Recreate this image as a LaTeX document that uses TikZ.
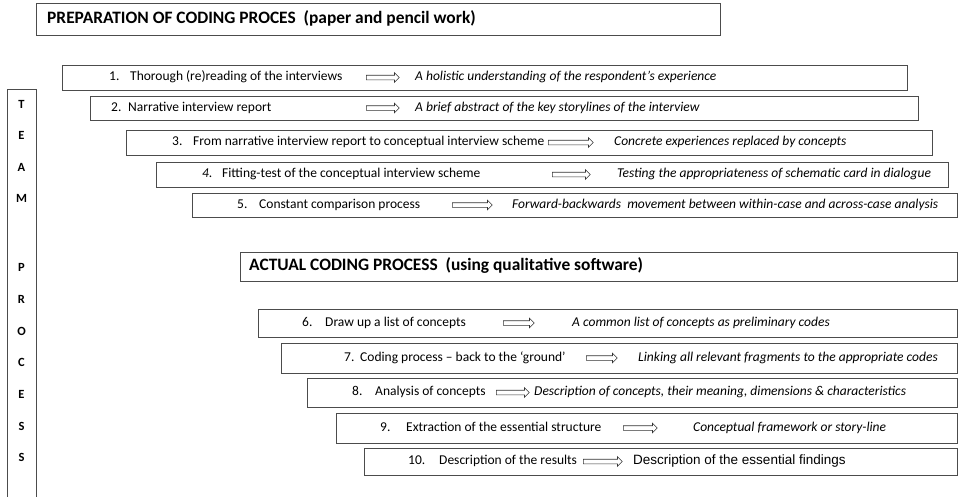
\documentclass[tikz,border=0pt]{standalone}
\usepackage{fontspec}
\setmainfont{Carlito}
\newfontfamily\arialfont{Liberation Sans}
\usetikzlibrary{shapes.arrows,positioning,calc}

\begin{document}
\begin{tikzpicture}[x=1pt,y=-1pt,
    stepbox/.style={draw=black!70,line width=1pt,rectangle,inner sep=0pt,anchor=north west},
    steptext/.style={anchor=west,inner sep=0pt,text height=9.5pt,text depth=3pt,font=\fontsize{13.5}{15}\selectfont},
    headtext/.style={anchor=west,inner sep=0pt,text height=12pt,text depth=3.5pt,font=\fontsize{17.4}{19}\selectfont\bfseries},
    teamletter/.style={inner sep=0pt,font=\fontsize{12.5}{14}\selectfont\bfseries},
    arrowsym/.style={single arrow,draw=black!80,line width=0.6pt,inner xsep=0pt,inner ysep=2pt,
      single arrow head extend=2.5pt,single arrow head indent=0pt,anchor=tail}
  ]
    \useasboundingbox (0,0) rectangle (958,496);
    % headers
    \node[stepbox,minimum width=684pt,minimum height=32pt] (prep) at (36,3) {};
    \node[headtext] at (47,19) {PREPARATION OF CODING PROCES \ (paper and pencil work)};
    \node[stepbox,minimum width=717pt,minimum height=29pt] (actual) at (240,252) {};
    \node[headtext] at (249,266.5) {ACTUAL CODING PROCESS \ (using qualitative software)};
    % team process column
    \node[stepbox,minimum width=29pt,minimum height=420pt] (team) at (7,89) {};
    \node[teamletter] (tT) at (21.5,104) {T};
    \node[teamletter] (tE) at (21.5,135) {E};
    \node[teamletter] (tA) at (21.5,167) {A};
    \node[teamletter] (tM) at (21.5,198) {M};
    \node[teamletter] (pP) at (21.5,267) {P};
    \node[teamletter] (pR) at (21.5,299) {R};
    \node[teamletter] (pO) at (21.5,331) {O};
    \node[teamletter] (pC) at (21.5,362) {C};
    \node[teamletter] (pE) at (21.5,394) {E};
    \node[teamletter] (pS) at (21.5,426) {S};
    \node[teamletter] (pS2) at (21.5,457) {S};
    % step 1
    \node[stepbox,minimum width=845pt,minimum height=25pt] (s1) at (62,65) {};
    \node[steptext] (n1) at (109,77.5) {1.};
    \node[steptext] (t1) at (130,77.5) {Thorough (re)reading of the interviews};
    \node[arrowsym,minimum height=33pt] (a1) at (366,77.5) {};
    \node[steptext] (r1) at (415,77.5) {\itshape A holistic understanding of the respondent’s experience};
    % step 2
    \node[stepbox,minimum width=828pt,minimum height=24pt] (s2) at (90,96) {};
    \node[steptext] (n2) at (111,108) {2.};
    \node[steptext] (t2) at (128,108) {Narrative interview report};
    \node[arrowsym,minimum height=33pt] (a2) at (366,108) {};
    \node[steptext] (r2) at (415,108) {\itshape A brief abstract of the key storylines of the interview};
    % step 3
    \node[stepbox,minimum width=806pt,minimum height=25pt] (s3) at (126,130) {};
    \node[steptext] (n3) at (172,142.5) {3.};
    \node[steptext] (t3) at (193,142.5) {From narrative interview report to conceptual interview scheme};
    \node[arrowsym,minimum height=45pt] (a3) at (548,142.5) {};
    \node[steptext] (r3) at (614,142.5) {\itshape Concrete experiences replaced by concepts};
    % step 4
    \node[stepbox,minimum width=792pt,minimum height=25pt] (s4) at (156,162) {};
    \node[steptext] (n4) at (202,174.5) {\itshape 4.};
    \node[steptext] (t4) at (222,174.5) {Fitting-test of the conceptual interview scheme};
    \node[arrowsym,minimum height=38pt] (a4) at (552,174.5) {};
    \node[steptext] (r4) at (617,174.5) {\itshape Testing the appropriateness of schematic card in dialogue};
    % step 5
    \node[stepbox,minimum width=765pt,minimum height=24pt] (s5) at (192,193) {};
    \node[steptext] (n5) at (237,205) {5.};
    \node[steptext] (t5) at (259,205) {Constant comparison process};
    \node[arrowsym,minimum height=40pt] (a5) at (452,205) {};
    \node[steptext] (r5) at (512,205) {\itshape Forward-backwards \ movement between within-case and across-case analysis};
    % step 6
    \node[stepbox,minimum width=699pt,minimum height=28pt] (s6) at (258,309) {};
    \node[steptext] (n6) at (302,323) {6.};
    \node[steptext] (t6) at (325,323) {Draw up a list of concepts};
    \node[arrowsym,minimum height=31pt] (a6) at (503,323) {};
    \node[steptext] (r6) at (572,323) {\itshape A common list of concepts as preliminary codes};
    % step 7
    \node[stepbox,minimum width=676pt,minimum height=30pt] (s7) at (281,343) {};
    \node[steptext] (n7) at (344,358) {7.};
    \node[steptext] (t7) at (360,358) {Coding process – back to the ‘ground’};
    \node[arrowsym,minimum height=31pt] (a7) at (586,358) {};
    \node[steptext] (r7) at (638,358) {\itshape Linking all relevant fragments to the appropriate codes};
    % step 8
    \node[stepbox,minimum width=650pt,minimum height=29pt] (s8) at (307,378) {};
    \node[steptext] (n8) at (352,392.5) {8.};
    \node[steptext] (t8) at (375,392.5) {Analysis of concepts};
    \node[arrowsym,minimum height=33pt] (a8) at (496,392.5) {};
    \node[steptext] (r8) at (534,392.5) {\itshape Description of concepts, their meaning, dimensions \& characteristics};
    % step 9
    \node[stepbox,minimum width=621pt,minimum height=30pt] (s9) at (336,413) {};
    \node[steptext] (n9) at (380,428) {9.};
    \node[steptext] (t9) at (406,428) {Extraction of the essential structure};
    \node[arrowsym,minimum height=34pt] (a9) at (623,428) {};
    \node[steptext] (r9) at (693,428) {\itshape Conceptual framework or story-line};
    % step 10
    \node[stepbox,minimum width=593pt,minimum height=27pt] (s10) at (364,448) {};
    \node[steptext] (n10) at (408,461.5) {10.};
    \node[steptext] (t10) at (439,461.5) {Description of the results};
    \node[arrowsym,minimum height=39pt] (a10) at (583,461.5) {};
    \node[steptext] (r10) at (633,461.5) {\arialfont Description of the essential findings};
\end{tikzpicture}
\end{document}
